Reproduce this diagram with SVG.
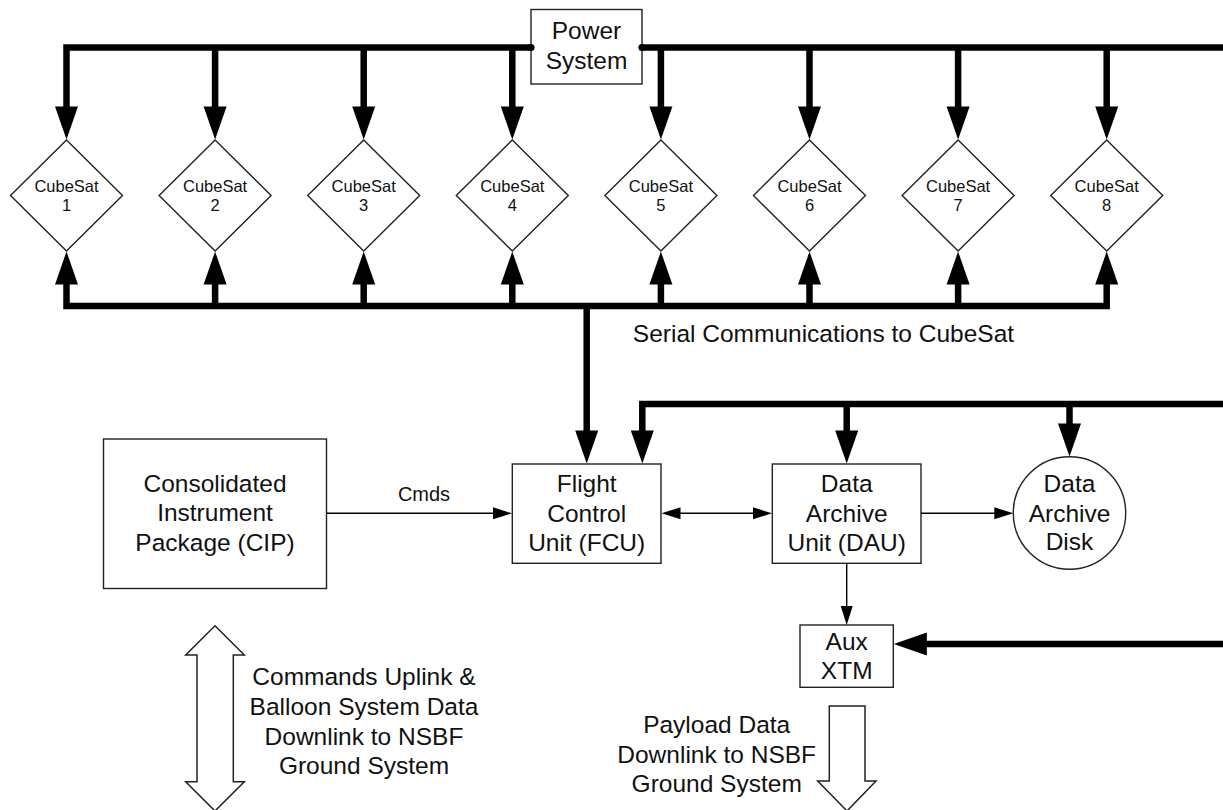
<svg xmlns="http://www.w3.org/2000/svg" xmlns:xlink="http://www.w3.org/1999/xlink" width="1223" height="810" viewBox="0 0 1223 810">
<style>
  .box { fill: #fff; stroke: #222; stroke-width: 1.4; }
  .bus { fill: none; stroke: #000; stroke-width: 6.5; stroke-linejoin: miter; }
  .thin { fill: none; stroke: #000; stroke-width: 1.4; }
  .blk { fill: #fff; stroke: #222; stroke-width: 1.5; stroke-linejoin: miter; }
  .head { fill: #000; }
  text { font-family: "Liberation Sans", Arial, sans-serif; fill: #111; text-anchor: middle; }
  .t24 { font-size: 24.5px; }
  .t19 { font-size: 20px; }
  .t16 { font-size: 16.5px; }
</style>
<defs>
  <path id="th" d="M0 0 L-11.5 -33 L11.5 -33 Z"/>
  <path id="tn" d="M0 0 L-6 -19 L6 -19 Z"/>
</defs>
<rect width="1223" height="810" fill="#fff"/>

<!-- Nodes -->
<g id="power-system">
  <rect class="box" x="531" y="9.5" width="111" height="74.5"/>
  <text class="t24" x="586.5" y="39">Power</text>
  <text class="t24" x="586.5" y="68.5">System</text>
</g>
<g id="cubesat-1"><polygon class="box" points="66.5,140 122.5,195.5 66.5,251 10.5,195.5"/><text class="t16" x="66.5" y="191.5">CubeSat</text><text class="t16" x="66.5" y="210.5">1</text></g>
<g id="cubesat-2"><polygon class="box" points="215.1,140 271.1,195.5 215.1,251 159.1,195.5"/><text class="t16" x="215.1" y="191.5">CubeSat</text><text class="t16" x="215.1" y="210.5">2</text></g>
<g id="cubesat-3"><polygon class="box" points="363.7,140 419.7,195.5 363.7,251 307.7,195.5"/><text class="t16" x="363.7" y="191.5">CubeSat</text><text class="t16" x="363.7" y="210.5">3</text></g>
<g id="cubesat-4"><polygon class="box" points="512.3,140 568.3,195.5 512.3,251 456.3,195.5"/><text class="t16" x="512.3" y="191.5">CubeSat</text><text class="t16" x="512.3" y="210.5">4</text></g>
<g id="cubesat-5"><polygon class="box" points="660.9,140 716.9,195.5 660.9,251 604.9,195.5"/><text class="t16" x="660.9" y="191.5">CubeSat</text><text class="t16" x="660.9" y="210.5">5</text></g>
<g id="cubesat-6"><polygon class="box" points="809.5,140 865.5,195.5 809.5,251 753.5,195.5"/><text class="t16" x="809.5" y="191.5">CubeSat</text><text class="t16" x="809.5" y="210.5">6</text></g>
<g id="cubesat-7"><polygon class="box" points="958.1,140 1014.1,195.5 958.1,251 902.1,195.5"/><text class="t16" x="958.1" y="191.5">CubeSat</text><text class="t16" x="958.1" y="210.5">7</text></g>
<g id="cubesat-8"><polygon class="box" points="1106.7,140 1162.7,195.5 1106.7,251 1050.7,195.5"/><text class="t16" x="1106.7" y="191.5">CubeSat</text><text class="t16" x="1106.7" y="210.5">8</text></g>

<g id="cip">
  <rect class="box" x="103.5" y="439" width="223" height="149.5"/>
  <text class="t24" x="215" y="491.5">Consolidated</text>
  <text class="t24" x="215" y="521">Instrument</text>
  <text class="t24" x="215" y="551">Package (CIP)</text>
</g>
<g id="fcu">
  <rect class="box" x="512.3" y="464" width="148.7" height="99.3"/>
  <text class="t24" x="586.7" y="491.5">Flight</text>
  <text class="t24" x="586.7" y="521.5">Control</text>
  <text class="t24" x="586.7" y="550.5">Unit (FCU)</text>
</g>
<g id="dau">
  <rect class="box" x="772.3" y="464" width="148.7" height="99.3"/>
  <text class="t24" x="846.7" y="491.5">Data</text>
  <text class="t24" x="846.7" y="521.5">Archive</text>
  <text class="t24" x="846.7" y="550.5">Unit (DAU)</text>
</g>
<g id="data-archive-disk">
  <ellipse class="box" cx="1069.5" cy="513" rx="56.2" ry="56.3"/>
  <text class="t24" x="1069.5" y="491.5">Data</text>
  <text class="t24" x="1069.5" y="521.5">Archive</text>
  <text class="t24" x="1069.5" y="550">Disk</text>
</g>
<g id="aux-xtm">
  <rect class="box" x="800" y="625" width="93.3" height="62.3"/>
  <text class="t24" x="846.7" y="649.5">Aux</text>
  <text class="t24" x="846.7" y="678.5">XTM</text>
</g>
<g id="uplink-downlink-arrow">
  <polygon class="blk" points="215,625.7 244.3,655 233.3,655 233.3,781.7 244.3,781.7 215,811 185.7,781.7 197,781.7 197,655 185.7,655"/>
  <text class="t24" x="364" y="685">Commands Uplink &amp;</text>
  <text class="t24" x="364" y="715">Balloon System Data</text>
  <text class="t24" x="364" y="744.5">Downlink to NSBF</text>
  <text class="t24" x="364" y="773.5">Ground System</text>
</g>
<g id="payload-downlink-arrow">
  <polygon class="blk" points="829.3,706 865,706 865,781 876,781 847,811 817.7,781 829.3,781"/>
  <text class="t24" x="716.7" y="733">Payload Data</text>
  <text class="t24" x="716.7" y="762.5">Downlink to NSBF</text>
  <text class="t24" x="716.7" y="791.5">Ground System</text>
</g>

<!-- Connectors -->
<g id="connectors">
  <!-- power bus -->
  <path class="bus" d="M531 47.5 H66.5 V110" stroke-linecap="butt"/>
  <path class="bus" d="M642 47.5 H1226"/>
  <circle cx="531" cy="47.5" r="3.6" fill="#000"/>
  <circle cx="642" cy="47.5" r="3.6" fill="#000"/>
  <path class="bus" d="M215.1 47.5 V110 M363.7 47.5 V110 M512.3 47.5 V110 M660.9 47.5 V110 M809.5 47.5 V110 M958.1 47.5 V110 M1106.7 47.5 V110"/>
  <use href="#th" class="head" transform="translate(66.5 139.5)"/>
  <use href="#th" class="head" transform="translate(215.1 139.5)"/>
  <use href="#th" class="head" transform="translate(363.7 139.5)"/>
  <use href="#th" class="head" transform="translate(512.3 139.5)"/>
  <use href="#th" class="head" transform="translate(660.9 139.5)"/>
  <use href="#th" class="head" transform="translate(809.5 139.5)"/>
  <use href="#th" class="head" transform="translate(958.1 139.5)"/>
  <use href="#th" class="head" transform="translate(1106.7 139.5)"/>

  <!-- serial comms bus -->
  <path class="bus" d="M66.5 282 V306 H1106.7 V282"/>
  <path class="bus" d="M215.1 306 V282 M363.7 306 V282 M512.3 306 V282 M660.9 306 V282 M809.5 306 V282 M958.1 306 V282"/>
  <use href="#th" class="head" transform="translate(66.5 251.5) rotate(180)"/>
  <use href="#th" class="head" transform="translate(215.1 251.5) rotate(180)"/>
  <use href="#th" class="head" transform="translate(363.7 251.5) rotate(180)"/>
  <use href="#th" class="head" transform="translate(512.3 251.5) rotate(180)"/>
  <use href="#th" class="head" transform="translate(660.9 251.5) rotate(180)"/>
  <use href="#th" class="head" transform="translate(809.5 251.5) rotate(180)"/>
  <use href="#th" class="head" transform="translate(958.1 251.5) rotate(180)"/>
  <use href="#th" class="head" transform="translate(1106.7 251.5) rotate(180)"/>
  <path class="bus" d="M586.7 306 V434"/>
  <use href="#th" class="head" transform="translate(586.7 463.5)"/>
  <text class="t24" x="823.5" y="341.5">Serial Communications to CubeSat</text>

  <!-- second bus from right -->
  <path class="bus" d="M1226 404 H642.3 V434"/>
  <path class="bus" d="M846.7 404 V434 M1069.5 404 V427"/>
  <use href="#th" class="head" transform="translate(642.3 463.5)"/>
  <use href="#th" class="head" transform="translate(846.7 463.5)"/>
  <use href="#th" class="head" transform="translate(1069.5 456.5)"/>

  <!-- Cmds -->
  <path class="thin" d="M326.5 513.3 H495"/>
  <use href="#tn" class="head" transform="translate(512 513.3) rotate(-90)"/>
  <text class="t19" x="424" y="501">Cmds</text>

  <!-- FCU <-> DAU -->
  <path class="thin" d="M675 513.3 H757"/>
  <use href="#tn" class="head" transform="translate(661.5 513.3) rotate(90)"/>
  <use href="#tn" class="head" transform="translate(772 513.3) rotate(-90)"/>

  <!-- DAU -> Disk -->
  <path class="thin" d="M921 513.3 H996"/>
  <use href="#tn" class="head" transform="translate(1013.3 513.3) rotate(-90)"/>

  <!-- DAU -> Aux -->
  <path class="thin" d="M846.7 563.3 V608"/>
  <use href="#tn" class="head" transform="translate(846.7 625)"/>

  <!-- into Aux XTM -->
  <path class="bus" d="M1226 644 H924"/>
  <use href="#th" class="head" transform="translate(893.8 644) rotate(90)"/>
</g>
</svg>
